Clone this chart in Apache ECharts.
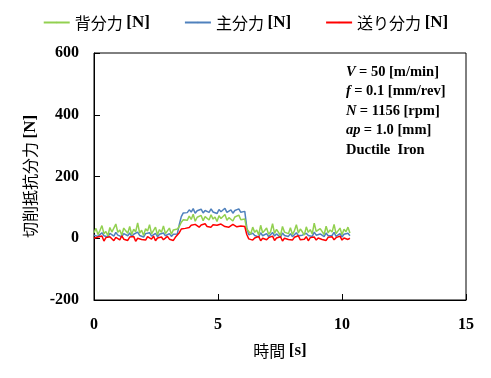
<!DOCTYPE html>
<html>
<head>
<meta charset="utf-8">
<script src="https://cdn.jsdelivr.net/npm/echarts@6/dist/echarts.min.js"></script>
<style>
  html, body { margin: 0; padding: 0; background: #fff; }
  #chart { width: 491px; height: 378px; }
</style>
</head>
<body>
<div id="chart"></div>
<script>
// sample step of the recorded signal [s]
var dt = 0.08;

// 背分力 (thrust force) [N]
var thrustForce = [
  18, 32, 12, 25, 41, 15, 22, 8, 35, 20, 14, 46, 19, 27, 10, 33, 24, 16, 38, 12,
  29, 21, 50, 17, 26, 9, 31, 23, 44, 14, 20, 36, 11, 28, 19, 40, 15, 24, 33, 13,
  27, 21, 30,
  38, 52, 60,
  66, 58, 72, 61, 78, 55, 68, 63, 74, 57, 70, 65, 59, 76, 62, 69, 54, 73, 64, 60,
  77, 58, 67, 71, 56, 69, 63, 75, 60, 66, 62,
  30,
  22, 14, 36, 19, 27, 11, 42, 18, 25, 33, 13, 21, 47, 16, 29, 23, 9, 38, 20, 26,
  15, 34, 12, 24, 44, 17, 30, 21, 10, 37, 19, 28, 14, 49, 22, 16, 31, 25, 12, 39,
  18, 27, 20, 45, 15, 24, 33, 11, 29, 21, 36, 17
];

// 主分力 (principal force) [N]
var principalForce = [
  10, 15, 6, 12, 18, 8, 13, 4, 16, 11, 7, 19, 10, 14, 5, 15, 12, 8, 17, 6,
  13, 11, 20, 9, 14, 4, 15, 12, 18, 7, 10, 16, 5, 13, 9, 17, 8, 12, 15, 6,
  13, 10, 14,
  45, 70, 82,
  88, 83, 92, 85, 96, 81, 89, 86, 94, 82, 90, 87, 84, 95, 85, 91, 80, 93, 86, 83,
  97, 84, 88, 92, 81, 90, 86, 95, 84, 89, 87,
  35,
  11, 6, 16, 9, 13, 4, 18, 8, 12, 15, 5, 10, 19, 7, 14, 11, 3, 17, 9, 12,
  6, 15, 5, 11, 18, 8, 14, 10, 4, 16, 9, 13, 6, 20, 10, 7, 14, 12, 5, 17,
  8, 13, 9, 19, 6, 11, 15, 4, 13, 10, 16, 8
];

// 送り分力 (feed force) [N]
var feedForce = [
  0, -6, 4, -2, 7, -9, 2, -4, 5, -1, -8, 3, 0, -5, 8, -3, 1, -7, 4, -2,
  6, -10, 0, 3, -4, 2, -6, 5, -1, -3, 7, -8, 1, -2, 4, -5, 0, 6, -3, 2,
  -7, 3, 5,
  18, 30, 34,
  32, 38, 35, 42, 37, 45, 39, 36, 43, 40, 47, 38, 41, 36, 44, 39, 42, 37, 46, 40,
  38, 43, 36, 41, 45, 39, 37, 42, 40, 44, 38,
  12,
  -2, 4, -6, 1, -4, 6, -8, 0, 3, -5, 2, -3, 7, -7, 1, -2, 5, -9, 0, 4,
  -4, 2, -6, 3, -1, 8, -5, 0, -3, 5, -8, 2, -2, 4, -6, 1, 6, -4, 0, -7,
  3, -1, 5, -5, 2, -3, 7, -6, 1, 3, -4, 0
];

var legendNames = ['背分力 [N]', '主分力 [N]', '送り分力 [N]'];
var conditionLines = [
  '{i|V} {b|= 50 [m/min]}',
  '{i|f} {b|= 0.1 [mm/rev]}',
  '{i|N} {b|= 1156 [rpm]}',
  '{i|ap} {b|= 1.0 [mm]}',
  '{b|Ductile  Iron}'
];

function toPairs(arr) {
  return arr.map(function (v, i) { return [+(i * dt).toFixed(2), v]; });
}

var serif = '"Liberation Serif", "Times New Roman", serif';
var jp = '"Noto Sans CJK JP", sans-serif';

var chart = echarts.init(document.getElementById('chart'));
var option = {
  animation: false,
  backgroundColor: '#fff',
  grid: {
    left: 94, right: 25, top: 53, bottom: 78,
    show: true, borderColor: '#000', borderWidth: 1
  },
  legend: {
    top: 9,
    left: 'center',
    itemWidth: 26,
    itemHeight: 2,
    itemGap: 34,
    data: legendNames,
    formatter: function (name) {
      var parts = name.split(' ');
      return '{a|' + parts[0] + ' }{b|' + parts[1] + '}';
    },
    textStyle: {
      rich: {
        a: { fontFamily: jp, fontSize: 16, color: '#000' },
        b: { fontFamily: serif, fontSize: 17, fontWeight: 'bold', color: '#000' }
      }
    }
  },
  xAxis: {
    type: 'value',
    min: 0, max: 15, interval: 5,
    name: '{a|時間 }{b|[s]}',
    nameLocation: 'middle',
    nameGap: 42,
    nameTextStyle: {
      rich: {
        a: { fontFamily: jp, fontSize: 16, color: '#000' },
        b: { fontFamily: serif, fontSize: 17, fontWeight: 'bold', color: '#000' }
      }
    },
    axisLine: { onZero: false, lineStyle: { color: '#000', width: 1 } },
    axisTick: { inside: true, length: 6, lineStyle: { color: '#000' } },
    axisLabel: { margin: 17, fontFamily: serif, fontSize: 16, fontWeight: 'bold', color: '#000' },
    splitLine: { show: false }
  },
  yAxis: {
    type: 'value',
    min: -200, max: 600, interval: 200,
    name: '{a|切削抵抗分力 }{b|[N]}',
    nameLocation: 'middle',
    nameGap: 50,
    nameTextStyle: {
      rich: {
        a: { fontFamily: jp, fontSize: 16, color: '#000' },
        b: { fontFamily: serif, fontSize: 17, fontWeight: 'bold', color: '#000' }
      }
    },
    axisLine: { show: true, lineStyle: { color: '#000', width: 1 } },
    axisTick: { show: true, inside: true, length: 6, lineStyle: { color: '#000' } },
    axisLabel: { margin: 15, fontFamily: serif, fontSize: 16, fontWeight: 'bold', color: '#000' },
    splitLine: { show: false }
  },
  graphic: [{
    type: 'text',
    left: 346,
    top: 62,
    style: {
      text: conditionLines.join('\n'),
      lineHeight: 19.5,
      rich: {
        i: { fontFamily: serif, fontSize: 14.5, fontWeight: 'bold', fontStyle: 'italic', fill: '#000', lineHeight: 19.5 },
        b: { fontFamily: serif, fontSize: 14.5, fontWeight: 'bold', fill: '#000', lineHeight: 19.5 }
      }
    }
  }],
  series: [
    {
      name: '主分力 [N]', type: 'line', symbol: 'none', data: toPairs(principalForce),
      lineStyle: { width: 1.5, color: '#4F81BD' }, itemStyle: { color: '#4F81BD' }
    },
    {
      name: '背分力 [N]', type: 'line', symbol: 'none', data: toPairs(thrustForce),
      lineStyle: { width: 1.5, color: '#92D050' }, itemStyle: { color: '#92D050' }
    },
    {
      name: '送り分力 [N]', type: 'line', symbol: 'none', data: toPairs(feedForce),
      lineStyle: { width: 1.5, color: '#FF0000' }, itemStyle: { color: '#FF0000' }
    }
  ]
};
chart.setOption(option);
</script>
</body>
</html>
